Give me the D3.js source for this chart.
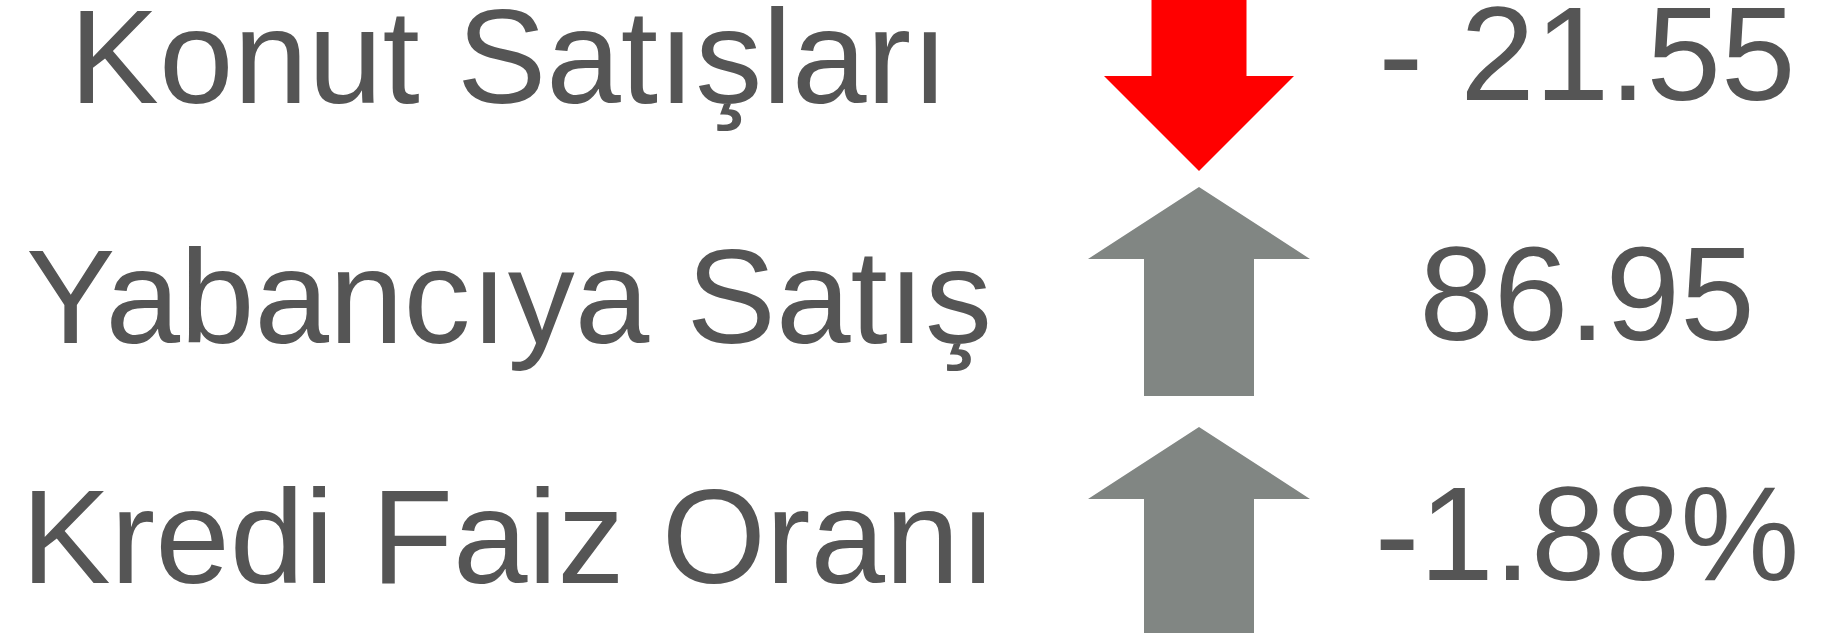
<!DOCTYPE html>
<html>
<head>
<meta charset="utf-8">
<script src="https://cdn.jsdelivr.net/npm/d3@7"></script>
<style>
  html, body { margin: 0; padding: 0; background: #ffffff; overflow: hidden; }
  svg { display: block; }
</style>
</head>
<body>
<svg id="chart" width="1822" height="633"></svg>
<script>
// ---- data ----
const categories = ["Konut Satışları", "Yabancıya Satış", "Kredi Faiz Oranı"];
const valueLabels = ["- 21.55", "86.95", "-1.88%"];
const directions = ["down", "up", "up"];

// ---- layout ----
const W = 1822, H = 633;
const svg = d3.select("#chart");
const textColor = "#555555";
const colorScale = d3.scaleOrdinal().domain(["down", "up"]).range(["#ff0000", "#818683"]);
const fontSize = 134;

const y = d3.scalePoint().domain(categories).range([58, 538]);
const x = d3.scalePoint().domain(["label", "value"]).range([509, 1587]);
const arrowX = 1199;

const rows = categories.map((c, i) => ({ cat: c, val: valueLabels[i], dir: directions[i] }));

function arrowPath(cx, cy, dir) {
  const p = d3.path();
  if (dir === "up") {
    const shaftHalf = 55, headHalf = 111;
    const tip = cy - 111, base = cy - 39, bottom = cy + 98;
    p.moveTo(cx, tip);
    p.lineTo(cx + headHalf, base);
    p.lineTo(cx + shaftHalf, base);
    p.lineTo(cx + shaftHalf, bottom);
    p.lineTo(cx - shaftHalf, bottom);
    p.lineTo(cx - shaftHalf, base);
    p.lineTo(cx - headHalf, base);
    p.closePath();
  } else {
    const shaftHalf = 47.5, headHalf = 95;
    const tip = cy + 113, base = cy + 18, top = cy - 96;
    p.moveTo(cx, tip);
    p.lineTo(cx + headHalf, base);
    p.lineTo(cx + shaftHalf, base);
    p.lineTo(cx + shaftHalf, top);
    p.lineTo(cx - shaftHalf, top);
    p.lineTo(cx - shaftHalf, base);
    p.lineTo(cx - headHalf, base);
    p.closePath();
  }
  return p.toString();
}

const g = svg.selectAll("g.row").data(rows).join("g").attr("class", "row");

g.append("path")
  .attr("d", d => arrowPath(arrowX, y(d.cat), d.dir))
  .attr("fill", d => colorScale(d.dir));

g.append("text")
  .attr("x", x("label"))
  .attr("y", d => y(d.cat) + 45)
  .attr("text-anchor", "middle")
  .attr("font-family", "Arial, 'Liberation Sans', sans-serif")
  .attr("font-size", fontSize)
  .attr("fill", textColor)
  .text(d => d.cat);

g.append("text")
  .attr("x", x("value"))
  .attr("y", d => y(d.cat) + 42)
  .attr("text-anchor", "middle")
  .attr("font-family", "Arial, 'Liberation Sans', sans-serif")
  .attr("font-size", fontSize)
  .attr("fill", textColor)
  .style("white-space", "pre")
  .text(d => d.val);
</script>
</body>
</html>
